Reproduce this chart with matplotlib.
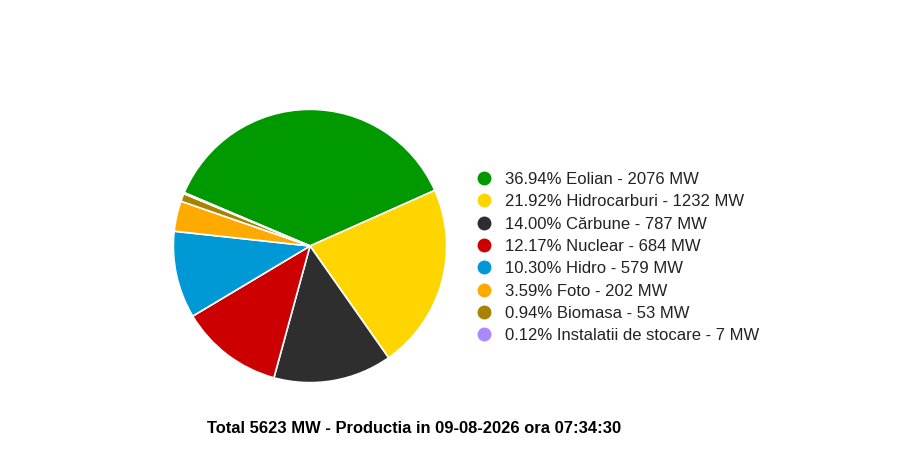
import matplotlib
matplotlib.use('Agg')
import matplotlib.pyplot as plt
from matplotlib.lines import Line2D

plt.rcParams['font.family'] = ['Liberation Sans', 'DejaVu Sans']

sources = ['Eolian', 'Hidrocarburi', 'Cărbune', 'Nuclear', 'Hidro', 'Foto', 'Biomasa', 'Instalatii de stocare']
mw = [2076, 1232, 787, 684, 579, 202, 53, 7]
pct = ['36.94', '21.92', '14.00', '12.17', '10.30', '3.59', '0.94', '0.12']
colors = ['#009900', '#FFD500', '#2E2E2E', '#CC0000', '#0099D6', '#FFAA00', '#A88300', '#AA88FF']
title = 'Total 5623 MW - Productia in 09-08-2026 ora 07:34:30'

W, H = 900, 467
fig = plt.figure(figsize=(W / 100, H / 100), dpi=100)

# pie: centre (310, 246) px from top-left, radius 138 px
cx, cy, r = 310, 246, 138
ax = fig.add_axes([(cx - r) / W, (H - cy - r) / H, 2 * r / W, 2 * r / H])
ax.pie(mw, colors=colors, startangle=157, counterclock=False, radius=1,
       wedgeprops=dict(edgecolor='white', linewidth=1.2))
ax.set_xlim(-1.01, 1.01)
ax.set_ylim(-1.01, 1.01)
ax.set_aspect('equal')
ax.axis('off')

# legend
y0, dy = 178, 22.3
for i, (s, m, p, c) in enumerate(zip(sources, mw, pct, colors)):
    y = 1 - (y0 + i * dy) / H
    fig.add_artist(Line2D([484 / W], [y], marker='o', markersize=10, color=c,
                          markeredgewidth=0, transform=fig.transFigure))
    fig.text(505 / W, y, f'{p}% {s} - {m} MW', fontsize=12, va='center_baseline', ha='left',
             color='#222222')

fig.text(414 / W, 1 - 427 / H, title, fontsize=11.85, fontweight='bold',
         ha='center', va='center_baseline', color='#000000')

fig.savefig('out.png', dpi=100)
